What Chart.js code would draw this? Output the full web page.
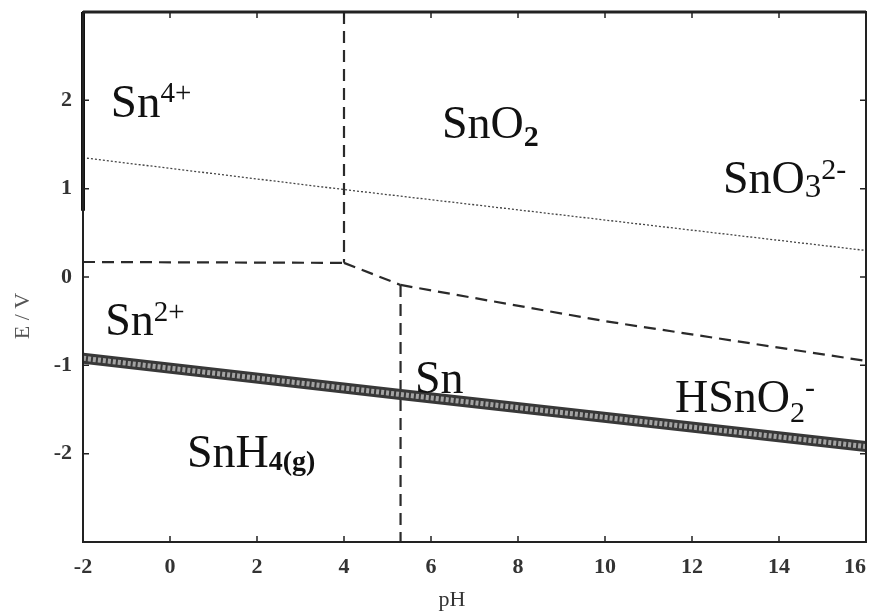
<!DOCTYPE html>
<html><head><meta charset="utf-8">
<script src="https://cdn.jsdelivr.net/npm/chart.js@4.4.1/dist/chart.umd.min.js"></script>
<style>html,body{margin:0;padding:0;background:#fff;}#wrap{width:873px;height:616px;}</style>
</head><body><div id="wrap"><canvas id="c" width="873" height="616"></canvas></div>
<script>
// ---- data ----
const xTickValues = [-2, 0, 2, 4, 6, 8, 10, 12, 14, 16];
const yTickValues = [-2, -1, 0, 1, 2];
const o2LinePH = [-2, 4, 16];          const o2LineE = [1.35, 0.99, 0.30];
const h2LinePH = [-2, 5.3, 16];        const h2LineE = [-0.92, -1.33, -1.92];
const sn4Sn2PH = [-2, 4];              const sn4Sn2E = [0.17, 0.16];
const sn4SnO2PH = [4, 4];              const sn4SnO2E = [3, 0.16];
const snO2Sn2PH = [4, 5.3];            const snO2Sn2E = [0.16, -0.09];
const snO2HSnO2PH = [5.3, 10, 16];     const snO2HSnO2E = [-0.09, -0.5, -0.95];
const sn2HSnO2PH = [5.3, 5.3];         const sn2HSnO2E = [-0.09, -3];
const leftEdgePH = [-2, -2];           const leftEdgeE = [3, 0.75];
const regionNames = ['Sn4+', 'SnO2', 'SnO32-', 'Sn2+', 'Sn', 'HSnO2-', 'SnH4(g)'];
const regionPH = [-1.36, 6.25, 12.71, -1.49, 5.63, 11.61, 0.39];
const regionE  = [1.81, 1.57, 0.95, -0.655, -1.31, -1.525, -2.15];

// ---- styling of the rich labels (not data) ----
const SERIF = '"Liberation Serif","Times New Roman",serif';
const labelParts = {
  'Sn4+':   [['Sn',47,false,0],['4+',29,false,-15]],
  'SnO2':   [['SnO',46,false,0],['2',30,true,8]],
  'SnO32-': [['SnO',46,false,0],['3',33,false,4],['2-',30,false,-14]],
  'Sn2+':   [['Sn',46,false,0],['2+',29,false,-14]],
  'Sn':     [['Sn',46,false,0]],
  'HSnO2-': [['HSnO',46,false,0],['2',30,false,10],['-',30,false,-15]],
  'SnH4(g)':[['SnH',46,false,0],['4(g)',28,true,3]]
};

const pts = (xs, ys) => xs.map((x, i) => ({x: x, y: ys[i]}));
const dashStyle = {borderColor: '#2a2a2a', borderWidth: 2.2, borderDash: [12, 7]};

const datasets = [
  {data: pts(leftEdgePH, leftEdgeE), borderColor: '#111', borderWidth: 4, clip: false},
  {data: pts(o2LinePH, o2LineE), borderColor: '#444', borderWidth: 1.3, borderDash: [2, 2]},
  {data: pts(h2LinePH, h2LineE), borderColor: 'rgba(175,175,175,0.9)', borderWidth: 5, borderDash: [3, 2]},
  {data: pts(h2LinePH, h2LineE), borderColor: '#383838', borderWidth: 11},
  Object.assign({data: pts(sn4Sn2PH, sn4Sn2E)}, dashStyle),
  Object.assign({data: pts(sn4SnO2PH, sn4SnO2E)}, dashStyle),
  Object.assign({data: pts(snO2Sn2PH, snO2Sn2E)}, dashStyle),
  Object.assign({data: pts(snO2HSnO2PH, snO2HSnO2E)}, dashStyle),
  Object.assign({data: pts(sn2HSnO2PH, sn2HSnO2E)}, dashStyle)
].map(d => Object.assign({showLine: true, pointRadius: 0, tension: 0, fill: false}, d));

const decor = {
  id: 'decor',
  afterDatasetsDraw(chart) {
    const ctx = chart.ctx, a = chart.chartArea;
    const xs = chart.scales.x, ys = chart.scales.y;
    ctx.save();
    // frame
    ctx.strokeStyle = '#222';
    ctx.lineWidth = 2;
    ctx.strokeRect(a.left, a.top, a.right - a.left, a.bottom - a.top);
    ctx.lineWidth = 3;
    ctx.beginPath(); ctx.moveTo(a.left, a.top); ctx.lineTo(a.right, a.top); ctx.stroke();
    // inward ticks
    ctx.lineWidth = 1.5;
    ctx.beginPath();
    xs.ticks.forEach(t => {
      const px = xs.getPixelForValue(t.value);
      ctx.moveTo(px, a.bottom); ctx.lineTo(px, a.bottom - 6);
      ctx.moveTo(px, a.top); ctx.lineTo(px, a.top + 6);
    });
    ys.ticks.forEach(t => {
      const py = ys.getPixelForValue(t.value);
      ctx.moveTo(a.left, py); ctx.lineTo(a.left + 6, py);
      ctx.moveTo(a.right, py); ctx.lineTo(a.right - 6, py);
    });
    ctx.stroke();
    // axis titles
    ctx.fillStyle = '#333';
    ctx.font = '22px ' + SERIF;
    ctx.textAlign = 'center'; ctx.textBaseline = 'middle';
    ctx.fillText('pH', 452, 600);
    ctx.save();
    ctx.translate(23, 316); ctx.rotate(-Math.PI / 2);
    ctx.fillStyle = '#555';
    ctx.fillText('E / V', 0, 0);
    ctx.restore();
    // region labels
    ctx.fillStyle = '#111';
    ctx.textAlign = 'left'; ctx.textBaseline = 'alphabetic';
    regionNames.forEach((name, i) => {
      let x = xs.getPixelForValue(regionPH[i]);
      const y = ys.getPixelForValue(regionE[i]);
      labelParts[name].forEach(p => {
        ctx.font = (p[2] ? 'bold ' : '') + p[1] + 'px ' + SERIF;
        ctx.fillText(p[0], x, y + p[3]);
        x += ctx.measureText(p[0]).width;
      });
    });
    ctx.restore();
  }
};

new Chart(document.getElementById('c'), {
  type: 'scatter',
  data: {datasets: datasets},
  options: {
    responsive: false, animation: false, devicePixelRatio: 1,
    layout: {padding: {left: 0, right: 7, top: 12, bottom: 0}},
    plugins: {legend: {display: false}, tooltip: {enabled: false}},
    scales: {
      x: {
        type: 'linear', min: -2, max: 16,
        afterBuildTicks: s => { s.ticks = xTickValues.map(v => ({value: v})); },
        afterFit: s => { s.height = 74; s.paddingLeft = 0; s.paddingRight = 0; },
        grid: {display: false, drawTicks: false},
        border: {display: false},
        ticks: {
          padding: 12, color: '#333', font: {family: SERIF, size: 22, weight: 'bold'},
          callback: v => v === 16 ? '16\u2003' : String(v)
        }
      },
      y: {
        type: 'linear', min: -3, max: 3,
        afterBuildTicks: s => { s.ticks = yTickValues.map(v => ({value: v})); },
        afterFit: s => { s.width = 83; s.paddingTop = 0; s.paddingBottom = 0; },
        grid: {display: false, drawTicks: false},
        border: {display: false},
        ticks: {padding: 11, color: '#333', font: {family: SERIF, size: 22, weight: 'bold'}}
      }
    }
  },
  plugins: [decor]
});
</script></body></html>
